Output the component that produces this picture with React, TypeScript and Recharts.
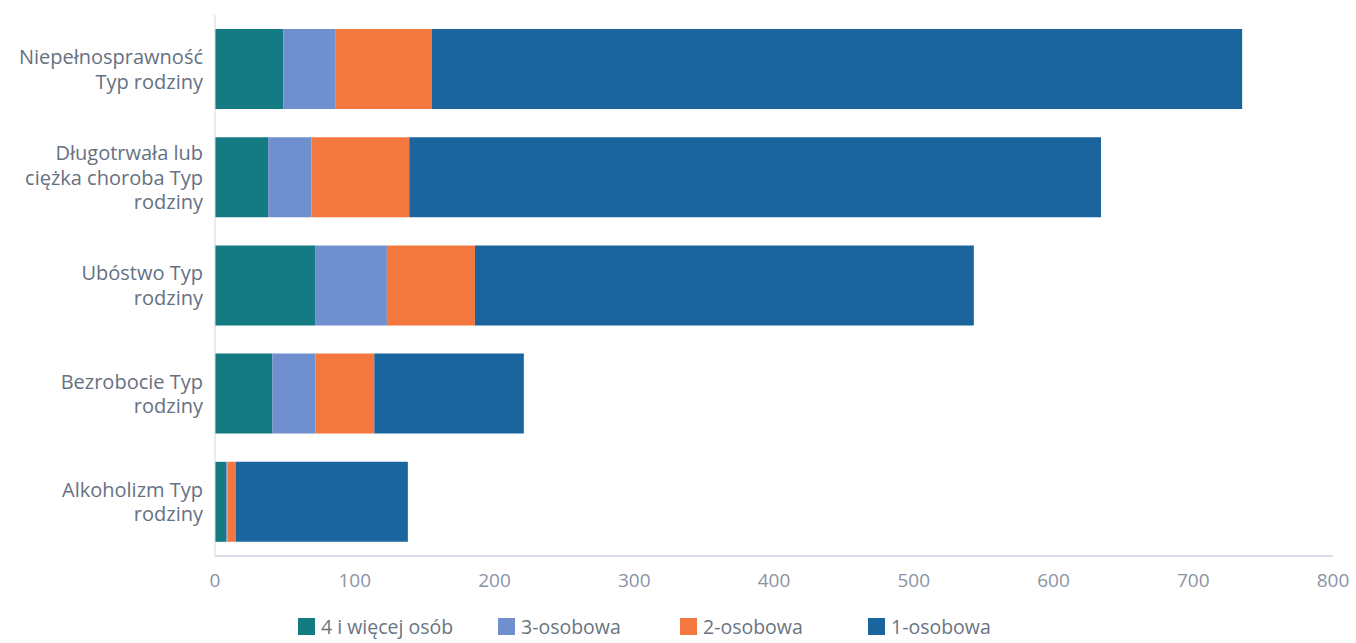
import { BarChart, Bar, XAxis, YAxis, Legend } from "recharts";

const categories = [
  ["Niepełnosprawność", "Typ rodziny"],
  ["Długotrwała lub", "ciężka choroba Typ", "rodziny"],
  ["Ubóstwo Typ", "rodziny"],
  ["Bezrobocie Typ", "rodziny"],
  ["Alkoholizm Typ", "rodziny"],
];
const fourPlus = [49, 38, 72, 41, 8];
const threePerson = [37, 31, 51, 31, 1];
const twoPerson = [69, 70, 63, 42, 6];
const onePerson = [580, 495, 357, 107, 123];
const xTicks = [0, 100, 200, 300, 400, 500, 600, 700, 800];

const series = [
  { key: "four", name: "4  i więcej osób", color: "#137b81" },
  { key: "three", name: "3-osobowa", color: "#6f8fcf" },
  { key: "two", name: "2-osobowa", color: "#f3783f" },
  { key: "one", name: "1-osobowa", color: "#1b659e" },
];

const data = categories.map((lines, i) => ({
  name: lines.join(" "),
  four: fourPlus[i],
  three: threePerson[i],
  two: twoPerson[i],
  one: onePerson[i],
}));

const FONT = "'Open Sans', 'DejaVu Sans', sans-serif";

// wrapped category label, one <text> with a tspan per line
function CategoryTick(props: any) {
  const { x, y, payload, index } = props;
  const lines: string[] = categories[index] ?? [String(payload.value)];
  const lh = 24.5;
  const start = y - ((lines.length - 1) * lh) / 2;
  return (
    <text
      x={x}
      y={start}
      textAnchor="end"
      fill="#667181"
      fontSize={20}
      fontFamily={FONT}
    >
      {lines.map((t, i) => (
        <tspan key={i} x={x} y={start + i * lh} dy="0.36em">
          {t}
        </tspan>
      ))}
    </text>
  );
}

const legendX = [298, 498, 680, 868];

function LegendContent() {
  return (
    <div style={{ position: "relative", height: 30 }}>
      {series.map((s, i) => (
        <div
          key={s.key}
          style={{
            position: "absolute",
            left: legendX[i],
            top: 5,
            display: "flex",
            alignItems: "center",
            gap: 6,
            fontFamily: FONT,
            fontSize: 19.5,
            color: "#6a7482",
            whiteSpace: "nowrap",
          }}
        >
          <div style={{ width: 17, height: 17, background: s.color }} />
          <span>{s.name}</span>
        </div>
      ))}
    </div>
  );
}

export default function App() {
  return (
    <div style={{ position: "absolute", left: 0, top: 0, width: 1356, height: 643, background: "#fff" }}>
      <BarChart
        width={1356}
        height={643}
        data={data}
        layout="vertical"
        margin={{ top: 15, right: 23, bottom: 0, left: 0 }}
        barSize={80}
      >
        <XAxis
          type="number"
          domain={[0, 800]}
          ticks={xTicks}
          axisLine={{ stroke: "#cfd2de", strokeWidth: 1.5 }}
          tickLine={false}
          tick={{ fill: "#8a94a3", fontSize: 19, fontFamily: FONT }}
          tickMargin={12}
          height={52}
        />
        <YAxis
          type="category"
          dataKey="name"
          width={215}
          axisLine={{ stroke: "#d3d7de", strokeWidth: 1 }}
          tickLine={false}
          tick={<CategoryTick />}
          tickMargin={6}
          interval={0}
        />
        <Legend
          verticalAlign="bottom"
          align="left"
          height={35}
          content={<LegendContent />}
        />
        {series.map((s) => (
          <Bar
            key={s.key}
            dataKey={s.key}
            name={s.name}
            stackId="a"
            fill={s.color}
            isAnimationActive={false}
          />
        ))}
      </BarChart>
    </div>
  );
}
